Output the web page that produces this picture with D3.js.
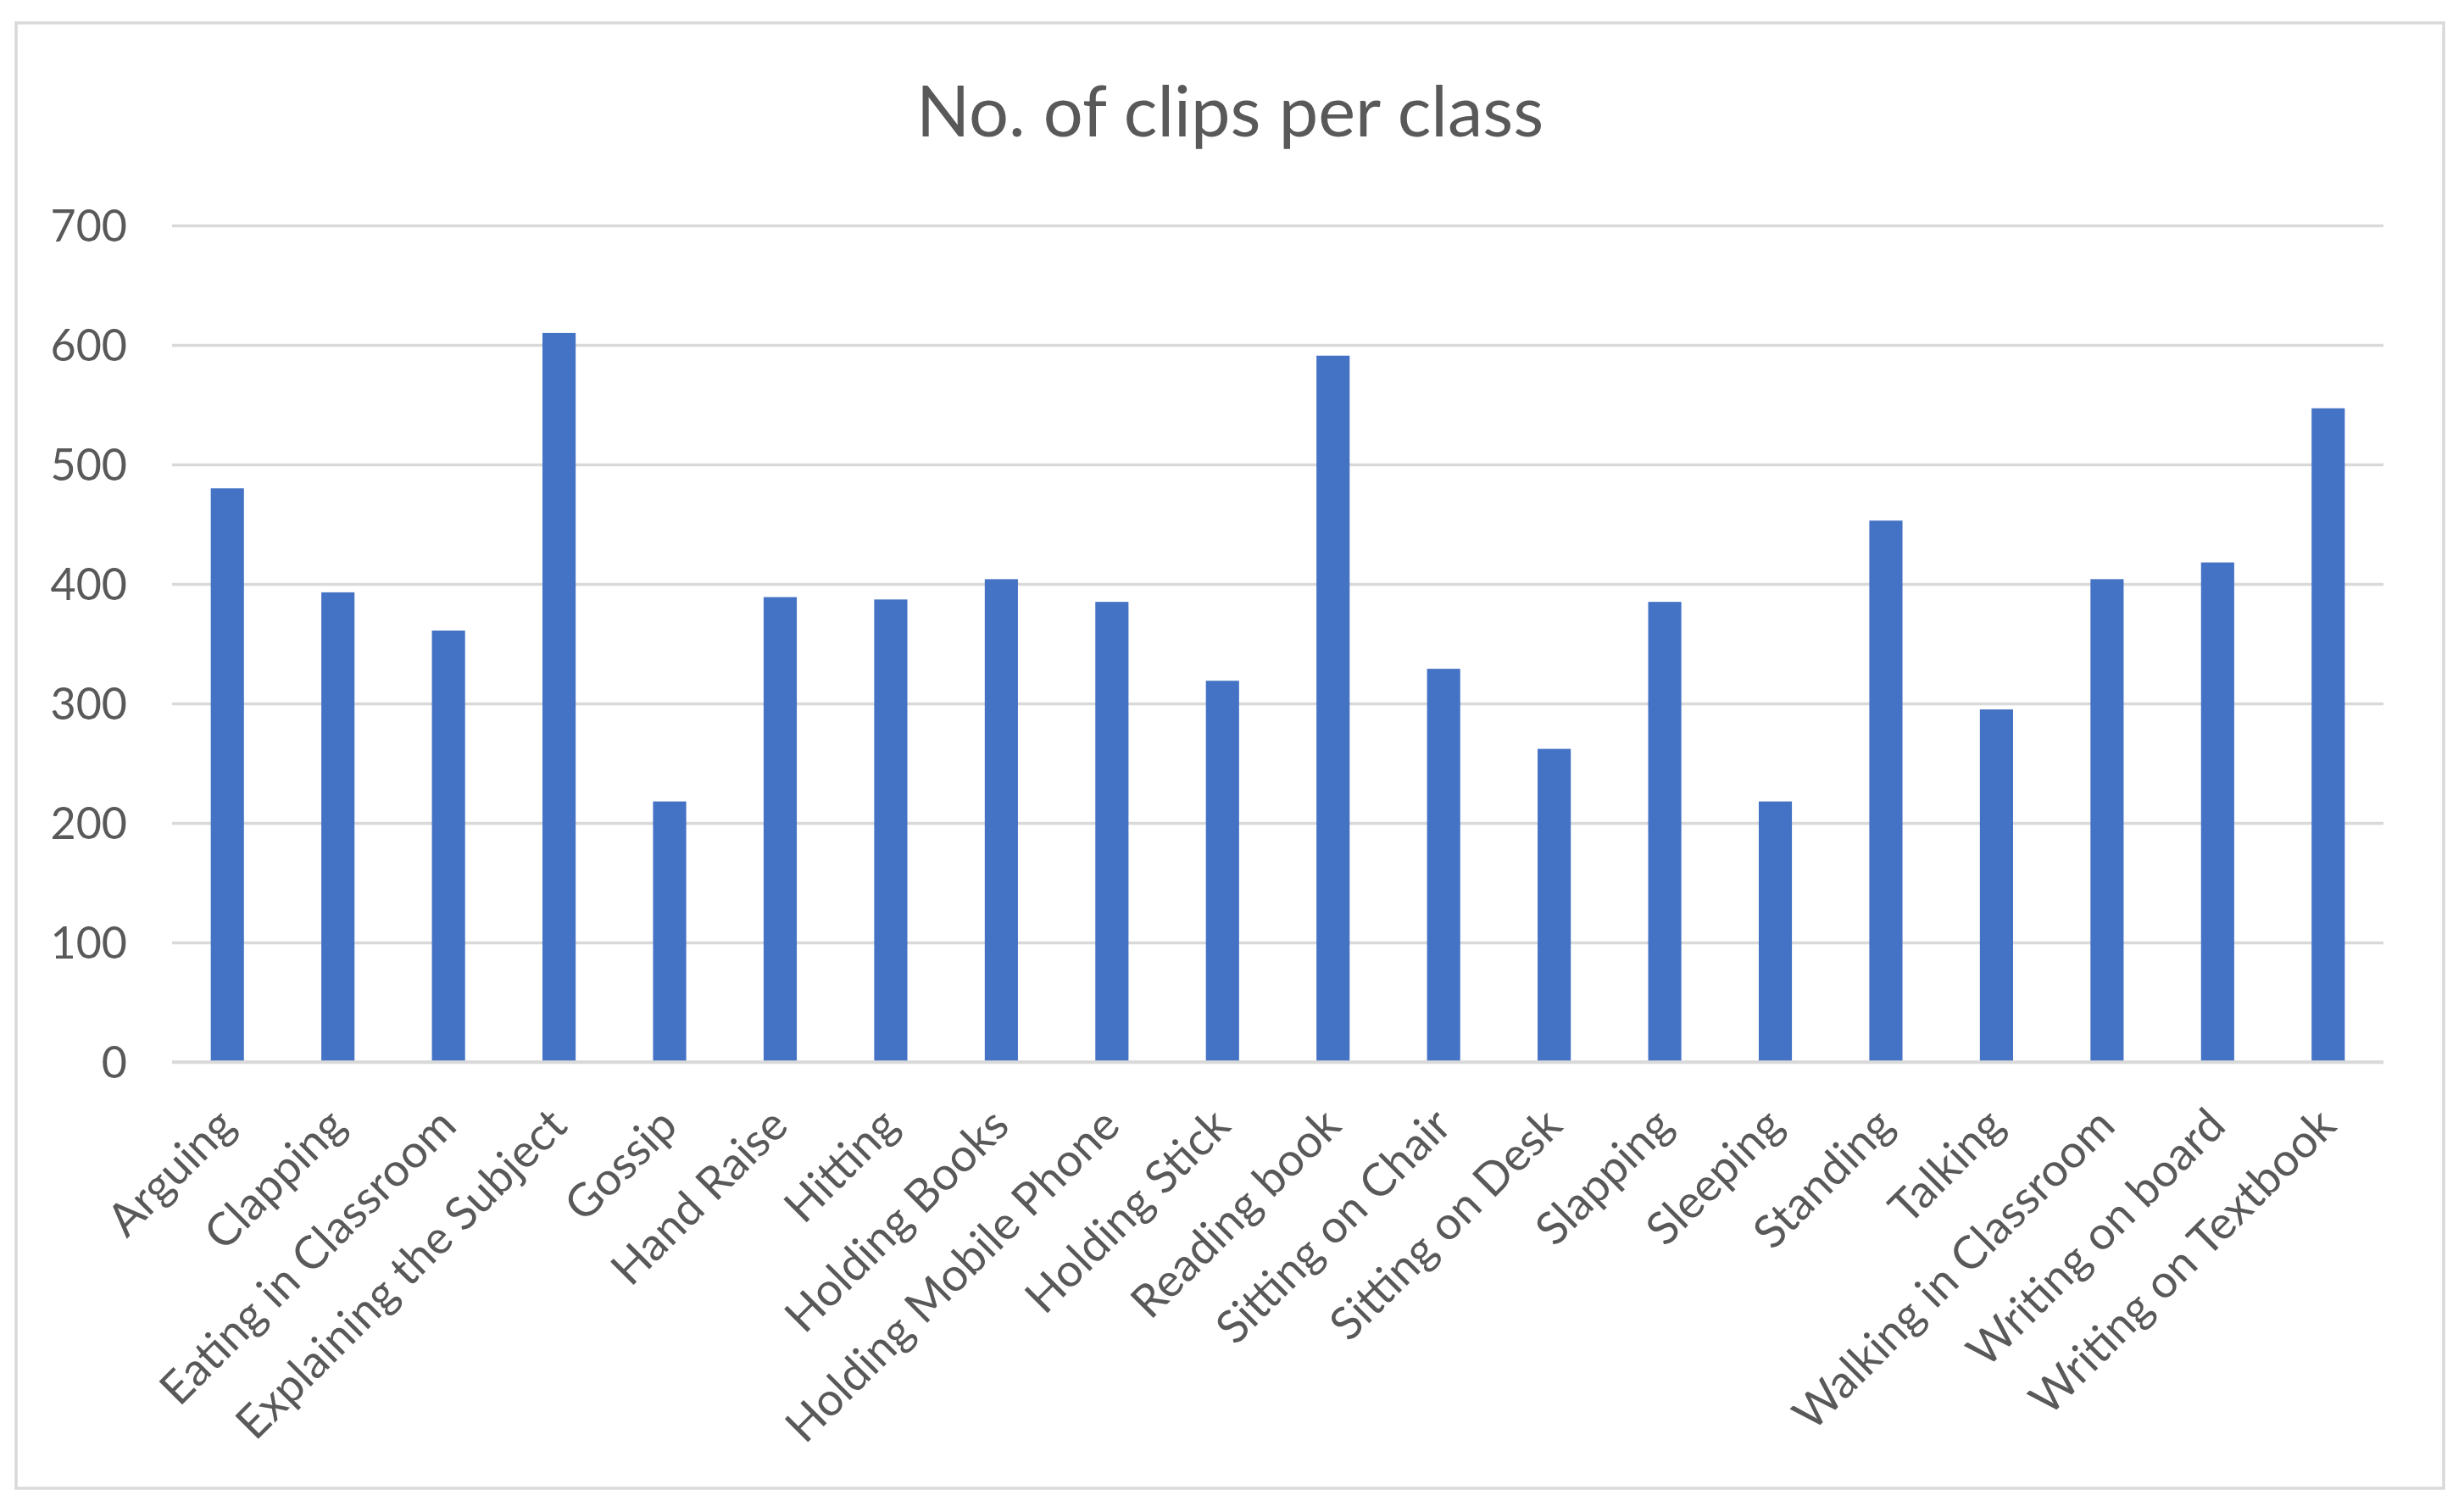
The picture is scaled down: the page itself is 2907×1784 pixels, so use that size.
<!DOCTYPE html>
<html>
<head>
<meta charset="utf-8">
<script src="https://cdn.jsdelivr.net/npm/d3@7"></script>
<style>
  html, body { margin: 0; padding: 0; background: #ffffff; }
  svg { display: block; }
</style>
</head>
<body>
<svg id="chart" width="2907" height="1784"></svg>
<script>
// ---- data ----
const categories = [
  "Arguing", "Clapping", "Eating in Classroom", "Explaining the Subject", "Gossip",
  "Hand Raise", "Hitting", "Holding Books", "Holding Mobile Phone", "Holding Stick",
  "Reading book", "Sitting on Chair", "Sitting on Desk", "Slapping", "Sleeping",
  "Standing", "Talking", "Walking in Classroom", "Writing on board", "Writing on Textbook"
];
const clipCounts = [
  480, 393, 361, 610, 218,
  389, 387, 404, 385, 319,
  591, 329, 262, 385, 218,
  453, 295, 404, 418, 547
];
const yTicks = [0, 100, 200, 300, 400, 500, 600, 700];
const chartTitle = "No. of clips per class";

// ---- layout ----
const W = 2907, H = 1784;
const frame = { left: 19, top: 27, right: 2883, bottom: 1756 };
const plot = { left: 203, right: 2812, top: 266, bottom: 1253 };
const textColor = "#595959";
const gridColor = "#D9D9D9";
const barColor = "#4472C4";
const fontFamily = "Lato, 'Open Sans', sans-serif";

const svg = d3.select("#chart");

svg.append("rect")
  .attr("x", 0).attr("y", 0).attr("width", W).attr("height", H)
  .attr("fill", "#ffffff");

// chart frame
svg.append("rect")
  .attr("x", frame.left).attr("y", frame.top)
  .attr("width", frame.right - frame.left)
  .attr("height", frame.bottom - frame.top)
  .attr("fill", "#ffffff")
  .attr("stroke", gridColor)
  .attr("stroke-width", 3.5);

// scales
const x = d3.scaleBand()
  .domain(categories)
  .range([plot.left, plot.right])
  .paddingInner(0.70)
  .paddingOuter(0.35);

const y = d3.scaleLinear()
  .domain([0, 700])
  .range([plot.bottom, plot.top]);

// gridlines + y tick labels
const yAxis = d3.axisLeft(y)
  .tickValues(yTicks)
  .tickSize(-(plot.right - plot.left))
  .tickPadding(53)
  .tickFormat(d3.format("d"));

const gy = svg.append("g")
  .attr("transform", `translate(${plot.left},0)`)
  .call(yAxis);
gy.select(".domain").remove();
gy.selectAll(".tick line")
  .attr("stroke", gridColor)
  .attr("stroke-width", 3.5);
gy.selectAll(".tick text")
  .attr("fill", textColor)
  .attr("font-family", fontFamily)
  .attr("font-size", 52)
  .attr("dy", "0.36em");

// bars
svg.append("g")
  .selectAll("rect")
  .data(categories)
  .join("rect")
  .attr("x", d => x(d))
  .attr("width", x.bandwidth())
  .attr("y", (d, i) => y(clipCounts[i]))
  .attr("height", (d, i) => y(0) - y(clipCounts[i]))
  .attr("fill", barColor);

// horizontal axis line
svg.append("line")
  .attr("x1", plot.left).attr("x2", plot.right)
  .attr("y1", y(0)).attr("y2", y(0))
  .attr("stroke", gridColor)
  .attr("stroke-width", 3.5);

// x axis labels
const xAxis = d3.axisBottom(x).tickSize(0).tickPadding(0);
const gx = svg.append("g")
  .attr("transform", `translate(0,${plot.bottom})`)
  .call(xAxis);
gx.select(".domain").remove();
gx.selectAll(".tick text")
  .attr("fill", textColor)
  .attr("font-family", fontFamily)
  .attr("font-size", 54)
  .attr("text-anchor", "end")
  .attr("y", 0)
  .attr("dy", 0)
  .attr("transform", "translate(12,78) rotate(-45)");

// title
svg.append("text")
  .attr("x", (frame.left + frame.right) / 2)
  .attr("y", 161)
  .attr("text-anchor", "middle")
  .attr("fill", textColor)
  .attr("font-family", fontFamily)
  .attr("font-size", 83)
  .text(chartTitle);
</script>
</body>
</html>
